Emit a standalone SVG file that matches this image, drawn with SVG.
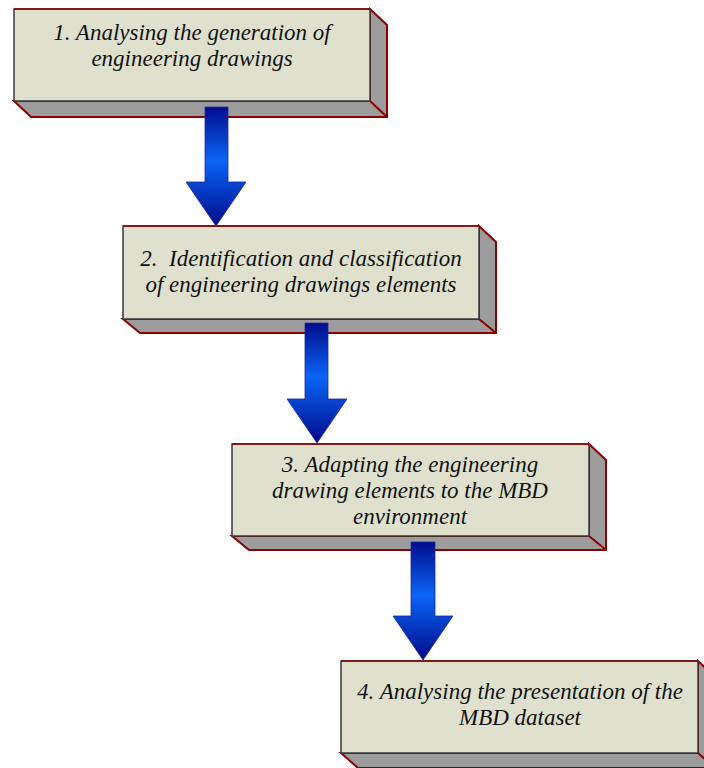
<svg xmlns="http://www.w3.org/2000/svg" width="704" height="768" viewBox="0 0 704 768">
<defs>
<linearGradient id="ag" x1="0" y1="0" x2="0" y2="1">
<stop offset="0" stop-color="#000C8C"/>
<stop offset="0.45" stop-color="#0A64F5"/>
<stop offset="1" stop-color="#000A8A"/>
</linearGradient>
<style>
.side{fill:#9C9C9C;stroke:#8B0000;stroke-width:2;stroke-linejoin:miter}
.edge{fill:none;stroke:#8B0000;stroke-width:2}
.front{fill:#DFE1CE;stroke:#3A3A3A;stroke-width:1.5}
.topedge{stroke:#8B0000;stroke-width:1.5}
.arrow{fill:url(#ag);stroke:#1A2AA0;stroke-width:0.8}
.t{font-family:"Liberation Serif","Times New Roman",serif;font-style:italic;font-size:23px;fill:#111;text-anchor:middle}
</style>
</defs>
<rect width="704" height="768" fill="#FFFFFF"/>
<g id="node1">
<path class="side" d="M370,9 L387,25 L387,117 L31,117 L14,101 L370,101 Z"/>
<line class="edge" x1="370" y1="101" x2="387" y2="117"/>
<rect class="front" x="14" y="9" width="356" height="92"/>
<line class="topedge" x1="14" y1="9" x2="370" y2="9"/>
<text class="t" x="192" y="40">1. Analysing the generation of</text>
<text class="t" x="192" y="66">engineering drawings</text>
</g>
<g id="node2">
<path class="side" d="M479,226 L496,242 L496,333 L140,333 L123,319 L479,319 Z"/>
<line class="edge" x1="479" y1="319" x2="496" y2="333"/>
<rect class="front" x="123" y="226" width="356" height="93"/>
<line class="topedge" x1="123" y1="226" x2="479" y2="226"/>
<text class="t" x="301" y="266" xml:space="preserve">2.  Identification and classification</text>
<text class="t" x="301" y="292">of engineering drawings elements</text>
</g>
<g id="node3">
<path class="side" d="M589,444 L606,460 L606,550 L249,550 L232,536 L589,536 Z"/>
<line class="edge" x1="589" y1="536" x2="606" y2="550"/>
<rect class="front" x="232" y="444" width="357" height="92"/>
<line class="topedge" x1="232" y1="444" x2="589" y2="444"/>
<text class="t" x="410" y="472">3. Adapting the engineering</text>
<text class="t" x="410" y="498">drawing elements to the MBD</text>
<text class="t" x="410" y="524">environment</text>
</g>
<g id="node4">
<path class="side" d="M698,661 L715,677 L715,768 L358,768 L341,753 L698,753 Z"/>
<line class="edge" x1="698" y1="753" x2="715" y2="768"/>
<rect class="front" x="341" y="661" width="357" height="92"/>
<line class="topedge" x1="341" y1="661" x2="698" y2="661"/>
<text class="t" x="520" y="699">4. Analysing the presentation of the</text>
<text class="t" x="520" y="725">MBD dataset</text>
</g>
<g id="connectors">
<path class="arrow" d="M205,107 H228 V182 H246 L216,226 L186,182 H205 Z"/>
<path class="arrow" d="M305,323 H328 V399 H347 L317,443 L287,399 H305 Z"/>
<path class="arrow" d="M411,542 H435 V616 H453 L423,660 L393,616 H411 Z"/>
</g>
</svg>
